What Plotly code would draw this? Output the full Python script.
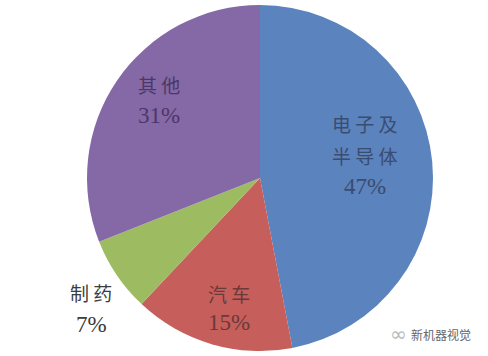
import plotly.graph_objects as go

categories = ["电子及半导体", "汽车", "制药", "其他"]
label_lines = [["电 子 及", "半 导 体"], ["汽 车"], ["制 药"], ["其 他"]]
values = [47, 15, 7, 31]
colors = ["#5B83BE", "#C65E5B", "#9DBB61", "#8568A6"]
text_colors = ["#3A4C70", "#6A3A3A", "#3C3C3C", "#4A3866"]
label_x = [365, 229, 91, 159]
label_top = [124, 293, 292, 85]
line_pitch = [31, 29, 32, 30]
W, H = 488, 356

fig = go.Figure(go.Pie(
    labels=categories, values=values, sort=False, direction="clockwise", rotation=0,
    marker=dict(colors=colors, line=dict(width=0)), textinfo="none", hoverinfo="label+percent",
    showlegend=False, domain=dict(x=[86/W, 434/W], y=[1-351/H, 1-5/H]),
))

for lines, v, x, top, p, c in zip(label_lines, values, label_x, label_top, line_pitch, text_colors):
    for i, line in enumerate(lines + [f"{v}%"]):
        is_pct = i == len(lines)
        fig.add_annotation(x=x/W, y=1-(top+i*p)/H, xref="paper", yref="paper", text=line, showarrow=False,
                           xanchor="center", yanchor="middle", align="center",
                           font=dict(family="Liberation Serif" if is_pct else "Noto Sans CJK SC",
                                     size=23 if is_pct else 19, color=c))

# watermark
fig.add_annotation(x=473/W, y=1-334/H, xref="paper", yref="paper", text="新机器视觉", showarrow=False,
                   xanchor="right", yanchor="middle",
                   font=dict(family="Noto Sans CJK SC", size=12, color="#666666"))
fig.add_annotation(x=398/W, y=1-334/H, xref="paper", yref="paper", text="∞", showarrow=False,
                   xanchor="center", yanchor="middle",
                   font=dict(family="DejaVu Sans", size=20, color="#BBBBBB"))

fig.update_layout(width=W, height=H, margin=dict(l=0, r=0, t=0, b=0),
                  paper_bgcolor="white", plot_bgcolor="white")
fig.write_html("out.html", config=dict(displayModeBar=False),
               post_script="document.body.style.margin='0';document.documentElement.style.overflow='hidden';")
